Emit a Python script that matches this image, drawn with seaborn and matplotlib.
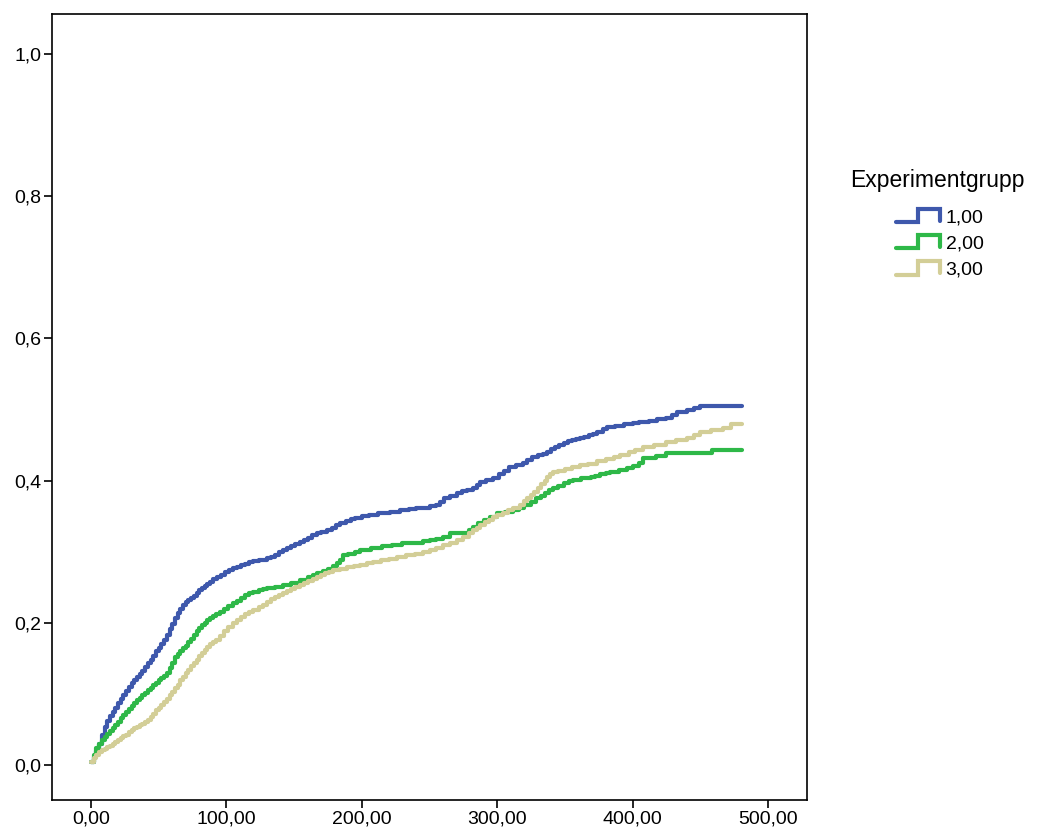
import numpy as np
import pandas as pd
import matplotlib
matplotlib.use("Agg")
import matplotlib.pyplot as plt
import seaborn as sns
from matplotlib.lines import Line2D
from matplotlib.legend_handler import HandlerLine2D

# ---- data ----
groups = ["1,00", "2,00", "3,00"]
colors = ["#3E58AC", "#2EB848", "#D3CE97"]

t1 = [0, 2, 4, 6, 8, 10, 12, 14, 16, 18, 20, 22, 24, 26, 28, 30, 32, 34, 36, 38, 40, 42,
      44, 46, 48, 50, 52, 54, 56, 58, 60, 62, 64, 66, 68, 70, 72, 74, 76, 78, 80, 82, 84,
      86, 88, 90, 93, 96, 99, 102, 105, 108, 111, 114, 117, 120, 124, 127, 130, 133, 136,
      139, 142, 145, 148, 151, 154, 157, 160, 163, 167, 170, 174, 178, 181, 184, 188, 192,
      195, 200, 205, 212, 221, 228, 235, 240, 245, 250, 255, 258, 261, 265, 270, 274, 278,
      282, 285, 287, 292, 297, 301, 305, 309, 314, 319, 322, 326, 330, 334, 337, 340, 343,
      346, 349, 352, 355, 358, 361, 364, 368, 371, 374, 378, 381, 387, 394, 400, 405, 412,
      418, 425, 429, 433, 440, 445, 450, 481]
v1 = [0.004, 0.012, 0.020, 0.030, 0.042, 0.053, 0.062, 0.069, 0.075, 0.081, 0.087, 0.093,
      0.098, 0.104, 0.110, 0.115, 0.120, 0.124, 0.128, 0.133, 0.138, 0.143, 0.148, 0.154,
      0.160, 0.165, 0.170, 0.176, 0.183, 0.191, 0.199, 0.207, 0.214, 0.220, 0.225, 0.229,
      0.232, 0.235, 0.238, 0.242, 0.246, 0.249, 0.252, 0.255, 0.258, 0.261, 0.265, 0.268,
      0.271, 0.274, 0.277, 0.279, 0.281, 0.283, 0.285, 0.287, 0.288, 0.289, 0.291, 0.293,
      0.296, 0.299, 0.302, 0.305, 0.308, 0.311, 0.314, 0.317, 0.320, 0.323, 0.326, 0.328,
      0.330, 0.334, 0.337, 0.340, 0.343, 0.346, 0.348, 0.350, 0.352, 0.354, 0.356, 0.358,
      0.360, 0.361, 0.362, 0.364, 0.366, 0.370, 0.375, 0.378, 0.382, 0.385, 0.387, 0.390,
      0.394, 0.398, 0.401, 0.404, 0.409, 0.414, 0.419, 0.422, 0.425, 0.429, 0.433, 0.436,
      0.438, 0.440, 0.444, 0.447, 0.450, 0.453, 0.455, 0.457, 0.459, 0.460, 0.462, 0.464,
      0.466, 0.468, 0.472, 0.475, 0.477, 0.480, 0.481, 0.482, 0.484, 0.486, 0.488, 0.492,
      0.496, 0.499, 0.502, 0.505, 0.505]

t2 = [0, 2, 4, 6, 8, 10, 12, 14, 16, 18, 20, 22, 24, 26, 28, 30, 32, 34, 36, 38, 40, 42,
      44, 46, 48, 50, 52, 54, 56, 58, 60, 62, 64, 66, 68, 70, 72, 74, 76, 78, 80, 82, 84,
      86, 88, 90, 92, 95, 98, 101, 105, 108, 111, 114, 117, 120, 124, 127, 130, 136, 142,
      148, 154, 160, 164, 167, 171, 175, 179, 182, 184, 186, 190, 195, 199, 207, 215, 222,
      230, 238, 245, 250, 255, 260, 265, 275, 279, 282, 286, 290, 295, 300, 306, 312, 316,
      320, 325, 329, 332, 335, 338, 341, 345, 349, 353, 356, 362, 369, 372, 376, 380, 383,
      390, 396, 400, 405, 408, 417, 425, 459, 481]
v2 = [0.004, 0.014, 0.024, 0.030, 0.035, 0.040, 0.044, 0.048, 0.052, 0.056, 0.061, 0.066,
      0.071, 0.075, 0.079, 0.083, 0.087, 0.091, 0.094, 0.098, 0.101, 0.105, 0.109, 0.113,
      0.116, 0.119, 0.122, 0.125, 0.129, 0.136, 0.144, 0.152, 0.156, 0.160, 0.164, 0.168,
      0.173, 0.178, 0.183, 0.188, 0.193, 0.197, 0.200, 0.204, 0.207, 0.210, 0.213, 0.216,
      0.220, 0.224, 0.228, 0.231, 0.235, 0.239, 0.242, 0.244, 0.246, 0.248, 0.249, 0.251,
      0.253, 0.256, 0.260, 0.265, 0.268, 0.270, 0.273, 0.276, 0.280, 0.284, 0.289, 0.295,
      0.297, 0.300, 0.302, 0.305, 0.308, 0.310, 0.312, 0.313, 0.315, 0.316, 0.318, 0.321,
      0.326, 0.327, 0.331, 0.335, 0.340, 0.344, 0.349, 0.354, 0.356, 0.359, 0.362, 0.366,
      0.370, 0.375, 0.379, 0.383, 0.387, 0.390, 0.393, 0.396, 0.399, 0.401, 0.403, 0.405,
      0.407, 0.409, 0.411, 0.412, 0.415, 0.418, 0.421, 0.425, 0.432, 0.435, 0.439, 0.443,
      0.443]

t3 = [0, 2, 4, 6, 8, 10, 12, 14, 16, 18, 20, 22, 24, 26, 28, 30, 32, 34, 36, 38, 40, 42,
      44, 46, 48, 50, 52, 54, 56, 58, 60, 62, 64, 66, 68, 70, 72, 74, 76, 78, 80, 82, 84,
      86, 88, 90, 92, 95, 98, 101, 105, 108, 111, 114, 117, 120, 124, 127, 130, 133, 136,
      139, 142, 145, 148, 151, 154, 157, 160, 164, 167, 170, 173, 176, 179, 184, 189, 194,
      199, 204, 208, 214, 220, 226, 233, 239, 245, 250, 255, 260, 265, 270, 275, 279, 282,
      285, 287, 291, 294, 297, 300, 304, 308, 312, 317, 320, 322, 325, 327, 330, 332, 335,
      337, 339, 341, 345, 350, 355, 361, 367, 374, 380, 386, 391, 397, 402, 408, 416, 425,
      432, 440, 445, 450, 458, 467, 473, 481]
v3 = [0.004, 0.010, 0.014, 0.018, 0.021, 0.023, 0.025, 0.027, 0.030, 0.032, 0.035, 0.038,
      0.041, 0.043, 0.046, 0.049, 0.052, 0.054, 0.056, 0.058, 0.060, 0.064, 0.068, 0.072,
      0.077, 0.081, 0.085, 0.089, 0.093, 0.098, 0.103, 0.108, 0.113, 0.119, 0.124, 0.129,
      0.134, 0.139, 0.143, 0.148, 0.153, 0.158, 0.162, 0.166, 0.170, 0.173, 0.176, 0.182,
      0.188, 0.194, 0.200, 0.204, 0.208, 0.212, 0.215, 0.218, 0.222, 0.225, 0.229, 0.233,
      0.236, 0.239, 0.242, 0.245, 0.248, 0.251, 0.253, 0.256, 0.259, 0.262, 0.265, 0.268,
      0.270, 0.272, 0.274, 0.276, 0.278, 0.280, 0.281, 0.284, 0.286, 0.288, 0.290, 0.292,
      0.295, 0.297, 0.300, 0.302, 0.305, 0.309, 0.313, 0.317, 0.321, 0.326, 0.330, 0.334,
      0.338, 0.342, 0.345, 0.349, 0.352, 0.355, 0.358, 0.362, 0.366, 0.371, 0.375, 0.380,
      0.384, 0.390, 0.395, 0.400, 0.405, 0.409, 0.412, 0.414, 0.417, 0.419, 0.422, 0.424,
      0.427, 0.430, 0.433, 0.436, 0.440, 0.443, 0.447, 0.450, 0.454, 0.457, 0.460, 0.464,
      0.468, 0.471, 0.474, 0.480, 0.480]

x_ticks = [0, 100, 200, 300, 400, 500]
x_ticklabels = ["0,00", "100,00", "200,00", "300,00", "400,00", "500,00"]
y_ticks = [0.0, 0.2, 0.4, 0.6, 0.8, 1.0]
y_ticklabels = ["0,0", "0,2", "0,4", "0,6", "0,8", "1,0"]
legend_title = "Experimentgrupp"

df = pd.concat([
    pd.DataFrame({"t": t1, "v": v1, "g": groups[0]}),
    pd.DataFrame({"t": t2, "v": v2, "g": groups[1]}),
    pd.DataFrame({"t": t3, "v": v3, "g": groups[2]}),
], ignore_index=True)

sns.set_style("white")
plt.rcParams["font.family"] = ["Liberation Sans", "DejaVu Sans"]
plt.rcParams["text.color"] = "black"

fig = plt.figure(figsize=(10.38, 8.40), dpi=100)
ax = fig.add_axes([52 / 1038, 1 - 800 / 840, (807 - 52) / 1038, (800 - 14) / 840])

sns.lineplot(data=df, x="t", y="v", hue="g", hue_order=groups,
             palette=dict(zip(groups, colors)), drawstyle="steps-post",
             linewidth=3.0, ax=ax, legend=False, estimator=None, sort=False)

ax.set_xlim(-28.8, 528.8)
ax.set_ylim(-0.049, 1.056)
ax.set_xticks(x_ticks)
ax.set_xticklabels(x_ticklabels)
ax.set_yticks(y_ticks)
ax.set_yticklabels(y_ticklabels)
ax.set_xlabel("")
ax.set_ylabel("")
for s in ax.spines.values():
    s.set_visible(True)
    s.set_color("black")
    s.set_linewidth(1.2)
ax.tick_params(axis="both", which="major", direction="out", length=5.5, width=1.2,
               colors="black", labelcolor="black", labelsize=14, pad=2,
               bottom=True, left=True, top=False, right=False)


class StepHandler(HandlerLine2D):
    def create_artists(self, legend, orig_handle, xdescent, ydescent, width, height,
                       fontsize, trans):
        x0 = -xdescent
        y0 = -ydescent
        lo = y0 + 0.05 * height
        hi = y0 + 0.95 * height
        xs = [x0, x0 + 0.5 * width, x0 + 0.5 * width, x0 + width, x0 + width]
        ys = [lo, lo, hi, hi, lo + 0.1 * height]
        ln = Line2D(xs, ys, color=orig_handle.get_color(), linewidth=3.0,
                    solid_joinstyle="miter")
        ln.set_transform(trans)
        return [ln]


fig.text(850 / 1038, 1 - 181 / 840, legend_title, ha="left", va="center",
         fontsize=16.5, color="black")

handles = [Line2D([], [], color=c) for c in colors]
leg = fig.legend(handles, groups, loc="upper left",
                 bbox_to_anchor=(896 / 1038, 1 - 208 / 840), frameon=False,
                 fontsize=14, handlelength=2.25,
                 handleheight=0.8, handletextpad=0.3, labelspacing=0.42,
                 borderpad=0, borderaxespad=0, labelcolor="black",
                 handler_map={Line2D: StepHandler()})

fig.savefig("out.png", dpi=100, facecolor="white")
